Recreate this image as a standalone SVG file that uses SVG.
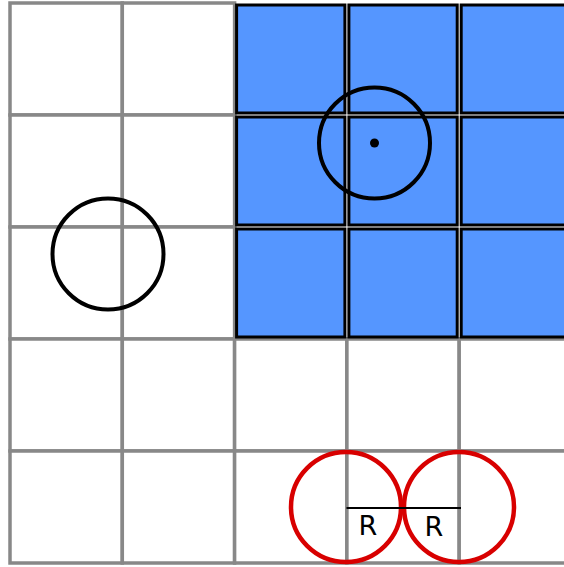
<svg xmlns="http://www.w3.org/2000/svg" width="564" height="567" viewBox="0 0 564 567">
<style>
.cell{fill:#fff;stroke:#888;stroke-width:3.5}
.blue{fill:#5596ff;stroke:#000;stroke-width:3}
.circ{fill:none;stroke:#000;stroke-width:4}
.red{fill:none;stroke:#d80000;stroke-width:4.5}
.lbl{font-family:"DejaVu Sans",sans-serif;font-size:27px;fill:#000;text-anchor:middle}
</style>
<rect width="564" height="567" fill="#fff"/>
<g id="grid">
<rect class="cell" x="10" y="3" width="112.3" height="112"/>
<rect class="cell" x="122.3" y="3" width="112.3" height="112"/>
<rect class="cell" x="10" y="115" width="112.3" height="112"/>
<rect class="cell" x="122.3" y="115" width="112.3" height="112"/>
<rect class="cell" x="10" y="227" width="112.3" height="112"/>
<rect class="cell" x="122.3" y="227" width="112.3" height="112"/>
<rect class="cell" x="10" y="339" width="112.3" height="112"/>
<rect class="cell" x="122.3" y="339" width="112.3" height="112"/>
<rect class="cell" x="234.6" y="339" width="112.3" height="112"/>
<rect class="cell" x="346.9" y="339" width="112.3" height="112"/>
<rect class="cell" x="459.2" y="339" width="112.3" height="112"/>
<rect class="cell" x="10" y="451" width="112.3" height="112"/>
<rect class="cell" x="122.3" y="451" width="112.3" height="112"/>
<rect class="cell" x="234.6" y="451" width="112.3" height="112"/>
<rect class="cell" x="346.9" y="451" width="112.3" height="112"/>
<rect class="cell" x="459.2" y="451" width="112.3" height="112"/>
</g>
<g id="blue-cells">
<rect class="blue" x="236.6" y="5" width="108.3" height="108"/>
<rect class="blue" x="348.9" y="5" width="108.3" height="108"/>
<rect class="blue" x="461.2" y="5" width="108.3" height="108"/>
<rect class="blue" x="236.6" y="117" width="108.3" height="108"/>
<rect class="blue" x="348.9" y="117" width="108.3" height="108"/>
<rect class="blue" x="461.2" y="117" width="108.3" height="108"/>
<rect class="blue" x="236.6" y="229" width="108.3" height="108"/>
<rect class="blue" x="348.9" y="229" width="108.3" height="108"/>
<rect class="blue" x="461.2" y="229" width="108.3" height="108"/>
</g>
<g id="circle-blue">
<circle class="circ" cx="374.5" cy="143" r="55.5"/>
<circle cx="374.5" cy="143" r="4.5" fill="#000"/>
</g>
<g id="circle-white">
<circle class="circ" cx="108" cy="254" r="55.5"/>
</g>
<g id="red-circles">
<circle class="red" cx="346" cy="507" r="55"/>
<circle class="red" cx="459" cy="507" r="55"/>
<line x1="346.5" y1="508" x2="461" y2="508" stroke="#000" stroke-width="2"/>
<text class="lbl" x="368" y="535">R</text>
<text class="lbl" x="434" y="536">R</text>
</g>
</svg>
